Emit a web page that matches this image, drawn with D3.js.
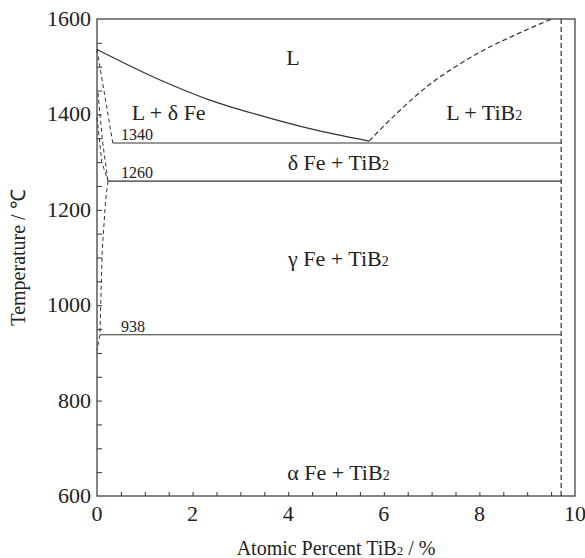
<!DOCTYPE html>
<html>
<head>
<meta charset="utf-8">
<script src="https://cdn.jsdelivr.net/npm/d3@7"></script>
<style>
  body { margin: 0; background: #fff; }
  svg text { font-family: "Liberation Serif", "Times New Roman", serif; fill: #222; }
</style>
</head>
<body>
<div id="chart"></div>
<script>
// Env params
const width = 585;
const height = 558;
const margin = {top: 19, right: 10, bottom: 62, left: 97};

// axis ticks
const xTicks = [0, 2, 4, 6, 8, 10];
const yTicks = [600, 800, 1000, 1200, 1400, 1600];

// phase boundaries (at% TiB2, temperature C)
const liquidus = [[0, 1536], [1.32, 1472], [2.36, 1430], [3.41, 1398], [4.5, 1369], [5.69, 1344]];
const tib2Liquidus = [[5.69, 1344], [6.3, 1405], [7.0, 1466], [7.5, 1500], [8.0, 1530], [8.78, 1568], [9.51, 1600]];
const deltaSolidus = [[0, 1536], [0.33, 1340]];
const deltaGammaA = [[0.02, 1445], [0.12, 1340], [0.23, 1260]];
const deltaGammaB = [[0, 1394], [0.1, 1300], [0.23, 1260]];
const gammaBoundary = [[0.23, 1260], [0.18, 1220], [0.11, 1115], [0.08, 1009], [0.06, 938], [0, 905]];
const tib2Line = [[9.71, 600], [9.71, 1600]];

// isotherms
const isoTemps = [1340, 1260, 938];
const isoStart = [0.33, 0.23, 0.06];
const isoEnd = 9.71;

// region labels
const regionNames = ["L", "L +  δ Fe", "L + TiB₂", "δ Fe + TiB₂", "γ Fe + TiB₂", "α Fe + TiB₂"];
const regionX = [4.1, 1.5, 8.1, 5.05, 5.05, 5.05];
const regionT = [1503, 1388, 1388, 1283, 1082, 634];

const svg = d3.select('#chart').append('svg')
  .attr('width', width)
  .attr('height', height)
  .attr('font-family', '"Liberation Serif", serif');

const x = d3.scaleLinear().domain([0, 10]).range([margin.left, width - margin.right]);
const y = d3.scaleLinear().domain([600, 1600]).range([height - margin.bottom, margin.top]);

const ink = '#333';

// frame
svg.append('rect')
  .attr('x', x(0)).attr('y', y(1600))
  .attr('width', x(10) - x(0)).attr('height', y(600) - y(1600))
  .attr('fill', 'none').attr('stroke', ink).attr('stroke-width', 1.2);

// inward ticks
svg.append('g')
  .attr('transform', `translate(0,${y(600)})`)
  .call(d3.axisTop(x).tickValues(d3.range(0.5, 10, 0.5)).tickSize(4).tickFormat(''))
  .call(g => g.select('.domain').remove())
  .call(g => g.selectAll('line').attr('stroke', ink));

svg.append('g')
  .attr('transform', `translate(${x(0)},0)`)
  .call(d3.axisRight(y).tickValues(d3.range(650, 1600, 50)).tickSize(5).tickFormat(''))
  .call(g => g.select('.domain').remove())
  .call(g => g.selectAll('line').attr('stroke', ink));

// tick labels
svg.append('g').selectAll('text')
  .data(xTicks).enter().append('text')
  .attr('x', d => x(d))
  .attr('y', y(600) + 25)
  .attr('text-anchor', 'middle')
  .style('font-size', '22px')
  .text(d => d);

svg.append('g').selectAll('text')
  .data(yTicks).enter().append('text')
  .attr('x', x(0) - 6)
  .attr('y', d => y(d) + 7)
  .attr('text-anchor', 'end')
  .style('font-size', '22px')
  .text(d => d);

// axis titles
const xt = svg.append('text')
  .attr('x', (x(0) + x(10)) / 2)
  .attr('y', height - 3)
  .attr('text-anchor', 'middle')
  .style('font-size', '20px');
xt.append('tspan').text('Atomic Percent TiB');
xt.append('tspan').text('2').style('font-size', '13px');
xt.append('tspan').text(' / %');

svg.append('text')
  .attr('transform', `translate(25,${(y(600) + y(1600)) / 2}) rotate(-90)`)
  .attr('text-anchor', 'middle')
  .style('font-size', '20px')
  .text('Temperature / ℃');

// boundary lines
const line = d3.line().x(d => x(d[0])).y(d => y(d[1]));
const curve = d3.line().x(d => x(d[0])).y(d => y(d[1])).curve(d3.curveMonotoneX);

svg.append('path').attr('d', curve(liquidus))
  .attr('fill', 'none').attr('stroke', ink).attr('stroke-width', 1.2);

svg.append('path').attr('d', curve(tib2Liquidus))
  .attr('fill', 'none').attr('stroke', ink).attr('stroke-width', 1.2)
  .attr('stroke-dasharray', '5,3');

[deltaSolidus, deltaGammaA, deltaGammaB, gammaBoundary].forEach(pts => {
  svg.append('path').attr('d', line(pts))
    .attr('fill', 'none').attr('stroke', ink).attr('stroke-width', 1)
    .attr('stroke-dasharray', '4,3');
});

svg.append('path').attr('d', line(tib2Line))
  .attr('fill', 'none').attr('stroke', ink).attr('stroke-width', 1.2)
  .attr('stroke-dasharray', '5,3');

// isotherms + labels
svg.append('g').selectAll('line')
  .data(isoTemps).enter().append('line')
  .attr('x1', (d, i) => x(isoStart[i]))
  .attr('x2', x(isoEnd))
  .attr('y1', d => y(d))
  .attr('y2', d => y(d))
  .attr('stroke', ink).attr('stroke-width', 1.2);

svg.append('g').selectAll('text')
  .data(isoTemps).enter().append('text')
  .attr('x', x(0.5))
  .attr('y', d => y(d) - 3)
  .style('font-size', '16px')
  .text(d => d);

// region labels (with subscript 2 on TiB2)
regionNames.forEach((name, i) => {
  const t = svg.append('text')
    .attr('x', x(regionX[i]))
    .attr('y', y(regionT[i]))
    .attr('text-anchor', 'middle')
    .style('font-size', '22px');
  if (name.endsWith('₂')) {
    t.append('tspan').text(name.slice(0, -1));
    t.append('tspan').text('2').style('font-size', '14px');
  } else {
    t.text(name);
  }
});
</script>
</body>
</html>
